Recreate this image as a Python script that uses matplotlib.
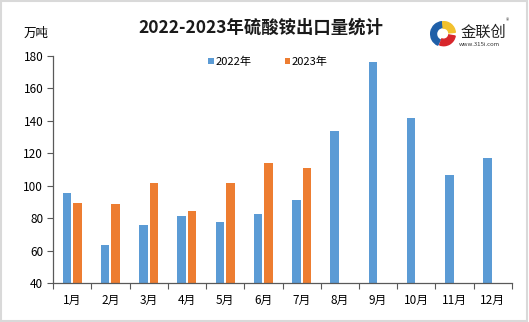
import matplotlib
matplotlib.use("Agg")
import matplotlib.pyplot as plt
import numpy as np
from matplotlib.patches import Wedge, Rectangle

plt.rcParams['font.family'] = ['Noto Sans CJK SC', 'DejaVu Sans']

months = ['1月', '2月', '3月', '4月', '5月', '6月', '7月', '8月', '9月', '10月', '11月', '12月']
series_names = ['2022年', '2023年']
v2022 = [95.6, 63.6, 75.9, 81.4, 77.7, 82.6, 91.3, 133.9, 176.4, 141.7, 106.6, 117.3]
v2023 = [89.6, 88.8, 101.9, 84.5, 101.9, 114.0, 111.1]
yticks = [40, 60, 80, 100, 120, 140, 160, 180]
title = '2022-2023年硫酸铵出口量统计'
unit = '万吨'

c_blue = '#5B9BD5'
c_orange = '#ED7D31'

W, H = 529, 322
fig = plt.figure(figsize=(W / 100, H / 100), dpi=100)
fig.patch.set_facecolor('white')
fig.patches.append(Rectangle((0.002, 0.003), 0.995, 0.994, transform=fig.transFigure,
                             fill=False, edgecolor='#D9D9D9', linewidth=1.5))

ax = fig.add_axes([53 / W, 1 - 283.3 / H, (512 - 53) / W, (283.3 - 55.8) / H])
x = np.arange(len(months))
bw = 0.22
off = 0.137
ax.bar(x[:len(v2022)] - off, v2022, width=bw, color=c_blue, label=series_names[0], zorder=2)
ax.bar(x[:len(v2023)] + off, v2023, width=bw, color=c_orange, label=series_names[1], zorder=2)

ax.set_xlim(-0.5, len(months) - 0.5)
ax.set_ylim(40, 180)
ax.set_yticks(yticks)
ax.set_yticklabels([str(t) for t in yticks], fontsize=8.5)
ax.set_xticks(x)
ax.set_xticklabels(months, fontsize=8.5)
ax.tick_params(axis='x', length=0, pad=8)
ax.set_xticks(np.arange(-0.5, len(months), 1), minor=True)
ax.tick_params(axis='x', which='minor', length=4, color='#595959', width=0.8)
ax.tick_params(axis='y', length=4, color='#595959', width=0.8, pad=3)
for s in ['top', 'right']:
    ax.spines[s].set_visible(False)
for s in ['left', 'bottom']:
    ax.spines[s].set_color('#595959')
    ax.spines[s].set_linewidth(0.9)

fig.text(261 / W, 1 - 28 / H, title, ha='center', va='center', fontsize=12.5,
         fontweight='bold', color='#1a1a1a')
fig.text(36 / W, 1 - 33 / H, unit, ha='center', va='center', fontsize=9)

leg = fig.legend(loc='center', bbox_to_anchor=(268 / W, 1 - 62 / H), ncol=2, frameon=False,
                 fontsize=8, handlelength=0.5, handleheight=0.5, handletextpad=0.15,
                 columnspacing=3.0)

# logo
lax = fig.add_axes([430 / W, 1 - 47 / H, 26 / W, 26 / H])
lax.set_xlim(-1, 1)
lax.set_ylim(-1, 1)
lax.set_aspect('equal')
lax.axis('off')
lax.add_patch(Wedge((0, 0), 0.95, 95, 245, width=0.45, color='#1F5FA8'))
lax.add_patch(Wedge((0.05, 0.05), 0.9, 5, 95, width=0.5, color='#F2C12E'))
lax.add_patch(Wedge((0.05, 0), 0.9, 250, 350, width=0.5, color='#D7262B'))
fig.text(483 / W, 1 - 32 / H, '金联创', ha='center', va='center', fontsize=11, color='#222222')
fig.text(507 / W, 1 - 21 / H, '®', ha='center', va='center', fontsize=5, color='#444444')
fig.text(479 / W, 1 - 44 / H, 'www.315i.com', ha='center', va='center', fontsize=4.3, color='#333333')

fig.savefig('out.png', dpi=100, facecolor='white')
